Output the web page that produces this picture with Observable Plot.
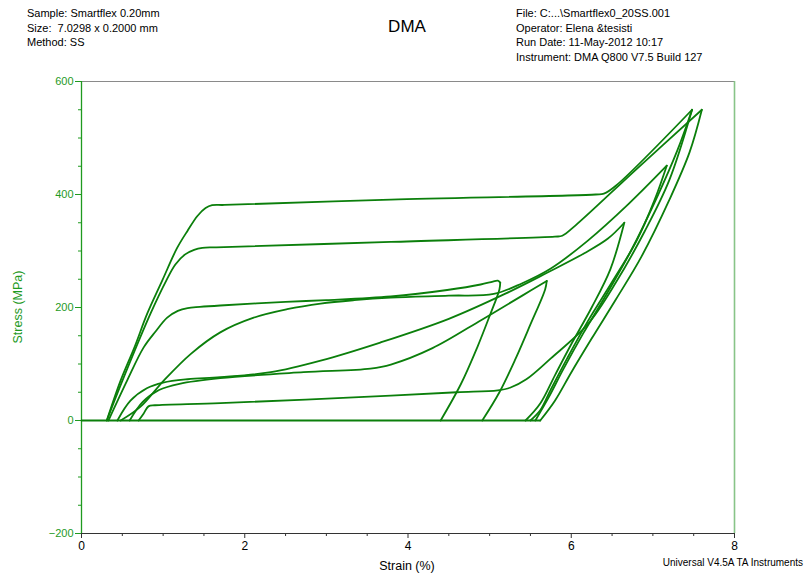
<!DOCTYPE html>
<html><head><meta charset="utf-8">
<script src="https://cdn.jsdelivr.net/npm/d3@7"></script>
<script src="https://cdn.jsdelivr.net/npm/@observablehq/plot@0.6"></script>
<style>
body{margin:0;background:#fff;}
#wrap{position:relative;width:807px;height:576px;font-family:"Liberation Sans",Arial,sans-serif;overflow:hidden;}
.t{position:absolute;white-space:pre;color:#000;line-height:14.7px;font-size:11px;}
</style></head><body>
<div id="wrap"></div>
<script>
// ---- texts ----
const headerLeft = ["Sample: Smartflex 0.20mm", "Size:  7.0298 x 0.2000 mm", "Method: SS"];
const headerRight = ["File: C:...\\Smartflex0_20SS.001", "Operator: Elena &tesisti", "Run Date: 11-May-2012 10:17", "Instrument: DMA Q800 V7.5 Build 127"];
const chartTitle = "DMA";
const xLabel = "Strain (%)";
const yLabel = "Stress (MPa)";
const footer = "Universal V4.5A TA Instruments";

// ---- axes ----
const xTicks = [0, 2, 4, 6, 8];
const xMinor = [0.5, 1, 1.5, 2.5, 3, 3.5, 4.5, 5, 5.5, 6.5, 7, 7.5];
const yTicks = [-200, 0, 200, 400, 600];
const yMinor = [-150, -100, -50, 50, 100, 150, 250, 300, 350, 450, 500, 550];

// ---- data: [strain %, stress MPa], loading and unloading branches ----
const baseline = [[0, 0], [5.62, 0]];

const load380 = [[0.31,0],[0.48,71],[0.65,130],[0.805,189],[0.99,248],[1.17,305],[1.30,336],[1.42,362],[1.52,376],[1.60,381],[1.75,381.5],[3.79,391],[6.30,400],[6.40,401.5],[6.55,416],[7.48,550]];
const unload380 = [[7.48,550],[7.30,478],[7.05,395],[6.73,300],[6.45,228],[6.15,155],[5.90,90],[5.72,40],[5.56,0]];

const load325 = [[0.31,0],[0.50,70],[0.845,189],[1.04,248],[1.15,276],[1.27,294],[1.38,302],[1.48,305.5],[1.65,306.5],[3.79,316],[5.80,325.5],[5.89,327],[6.05,345],[6.80,445],[7.60,550]];
const unload325 = [[7.60,550],[7.45,475],[7.20,390],[6.86,290],[6.55,215],[6.25,145],[6.00,85],[5.80,35],[5.62,0]];

const load200 = [[0.33,0],[0.56,71],[0.76,129],[0.91,158],[1.05,182],[1.18,194],[1.30,199],[1.45,201],[1.70,203.5],[2.50,210],[3.00,213],[3.79,219.5],[4.48,231],[4.89,240.7],[5.04,246],[5.10,247.5],[5.13,244]];
const unload200 = [[5.13,244],[5.12,232],[5.00,185],[4.85,130],[4.65,65],[4.40,0]];

const loadSmooth = [[0.48,0],[0.72,24],[1.01,71],[1.34,118],[1.70,156],[2.11,182],[2.52,197],[2.93,207],[3.34,213],[3.79,217.5],[4.50,221],[5.05,224],[5.40,243],[5.75,269],[6.20,318],[6.70,383],[7.17,451]];
const unloadSmooth = [[7.17,451],[7.02,390],[6.80,318],[6.50,245],[6.20,175],[5.95,110],[5.75,55],[5.62,18],[5.50,0]];

const load75a = [[0.44,0],[0.60,35],[0.80,57],[1.00,67],[1.30,73],[1.70,76.7],[2.32,85.5],[2.93,106],[3.66,138],[4.50,180],[5.20,225],[5.71,262],[6.16,296],[6.45,322],[6.65,350]];
const unload75a = [[6.65,350],[6.48,268],[6.25,200],[6.00,135],[5.80,80],[5.62,30],[5.44,0]];

const load75b = [[0.59,0],[0.75,33],[0.95,54],[1.20,65],[1.70,75],[2.72,85.5],[3.54,92],[3.79,99],[4.30,128],[4.90,178],[5.40,221],[5.70,247]];
const unload75b = [[5.70,247],[5.68,232],[5.50,170],[5.32,110],[5.12,50],[4.91,0]];

const load26 = [[0.70,0],[0.76,12],[0.82,25],[0.90,27],[1.70,30.7],[3.79,44],[4.60,50],[5.10,53.5],[5.25,58],[5.45,73],[5.75,110],[6.20,170],[6.55,245],[6.90,335],[7.20,425],[7.48,550]];

const curves = {baseline, load380, unload380, load325, unload325, load200, unload200, loadSmooth, unloadSmooth, load75a, unload75a, load75b, unload75b, load26};
const rows = Object.entries(curves).flatMap(([k, pts]) => pts.map(([x, y], i) => ({k, i, x, y})));

const green = "#1f9a1f";
const lineGreen = "#0b7f0b";

const chart = Plot.plot({
  width: 807, height: 576,
  marginLeft: 81, marginRight: 73, marginTop: 81, marginBottom: 43,
  x: {domain: [0, 8]},
  y: {domain: [-200, 600]},
  style: {fontFamily: "Liberation Sans, Arial, sans-serif", fontSize: "11px", background: "white", color: "#000"},
  marks: [
    Plot.ruleY([600], {stroke: "#8a8a8a", strokeWidth: 1.2}),
    Plot.ruleX([8], {stroke: "#88c488", strokeWidth: 1.6}),
    Plot.axisY({ticks: yMinor, tickSize: 3, tickFormat: () => "", stroke: green, label: null}),
    Plot.axisY({ticks: yTicks, tickSize: 6, tickPadding: 2, stroke: green, fill: green, fontSize: 11, label: null}),
    Plot.axisX({ticks: xMinor, tickSize: 3, tickFormat: () => "", stroke: "#333", label: null}),
    Plot.axisX({ticks: xTicks, tickSize: 5, tickPadding: 3, stroke: "#333", fill: "#000", fontSize: 12, label: null}),
    Plot.ruleX([0], {stroke: green, strokeWidth: 1.3}),
    Plot.ruleY([-200], {stroke: "#333", strokeWidth: 1.2}),
    Plot.line(rows, {x: "x", y: "y", z: "k", curve: "catmull-rom", stroke: lineGreen, strokeWidth: 1.8, strokeLinejoin: "round"})
  ]
});

const wrap = document.getElementById("wrap");
wrap.appendChild(chart);
function addText(txt, css) {
  const d = document.createElement("div");
  d.className = "t";
  d.textContent = txt;
  Object.assign(d.style, css);
  wrap.appendChild(d);
  return d;
}
addText(headerLeft.join("\n"), {left: "27px", top: "6px"});
addText(headerRight.join("\n"), {left: "516px", top: "6px"});
addText(chartTitle, {left: "407px", top: "17px", fontSize: "17px", lineHeight: "20px", transform: "translateX(-50%)"});
addText(xLabel, {left: "407px", top: "558px", fontSize: "12.5px", lineHeight: "16px", transform: "translateX(-50%)"});
addText(footer, {right: "4px", top: "556px", fontSize: "10px", lineHeight: "14px"});
addText(yLabel, {left: "18px", top: "307px", fontSize: "12.5px", lineHeight: "16px", color: green, transform: "translate(-50%,-50%) rotate(-90deg)"});
</script>
</body></html>
